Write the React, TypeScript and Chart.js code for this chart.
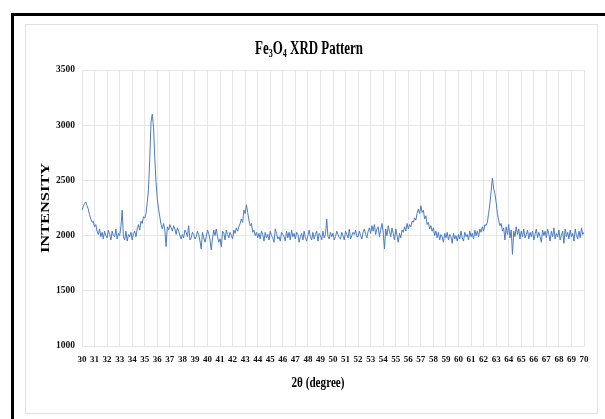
import React, { useEffect, useRef } from "react";
import { Chart, registerables } from "chart.js";

Chart.register(...registerables);

// 2θ grid: start and step of the scan (degrees)
const TWO_THETA_START = 30;
const TWO_THETA_STEP = 0.1;

// Intensity readings, one row per degree (30.0 … 69.9), then 70.0
const INTENSITY: number[] = [
  2230, 2265, 2290, 2305, 2270, 2240, 2190, 2150, 2120, 2130,
  2080, 2100, 2040, 2010, 2060, 1990, 2030, 1970, 2040, 2000,
  1980, 2050, 2010, 1960, 2040, 2000, 1990, 2060, 1970, 2020,
  2000, 2080, 2230, 1990, 1960, 2040, 1950, 2010, 1990, 2030,
  1960, 2020, 2040, 1990, 2060, 2100, 2050, 2130, 2110, 2170,
  2160, 2200, 2300, 2420, 2700, 3030, 3100, 2980, 2700, 2480,
  2330, 2240, 2170, 2100, 2060, 2110, 2050, 1900, 2080, 2050,
  2100, 2070, 2040, 2090, 2060, 2010, 2070, 2040, 2000, 1970,
  2010, 1980, 2050, 2030, 1990, 2090, 1960, 1980, 2030, 2010,
  1970, 1990, 2040, 2010, 1950, 1880, 2030, 1980, 1940, 1990,
  2050, 2020, 1960, 1870, 1980, 2050, 2000, 2060, 1990, 1940,
  1970, 1900, 2040, 2020, 1960, 2050, 2010, 1980, 2030, 2000,
  1970, 2050, 2020, 2070, 2040, 2080, 2110, 2150, 2120, 2230,
  2200, 2280, 2210, 2140, 2090, 2110, 2030, 2050, 2000, 2030,
  1980, 2020, 1970, 2040, 2010, 1950, 2030, 1980, 2010, 1960,
  2040, 2000, 1980, 1940, 2060, 2020, 1970, 1990, 1950, 2030,
  2010, 1990, 1950, 2040, 1980, 2030, 1960, 2050, 1990, 2020,
  1970, 2030, 2010, 1940, 1990, 2020, 1960, 2040, 1980, 1950,
  2000, 2050, 1990, 1960, 2030, 1970, 2010, 2040, 1950, 2020,
  2000, 1960, 2040, 1980, 2010, 2150, 1990, 1970, 2030, 1990,
  2020, 1960, 1990, 2040, 2010, 1980, 1970, 2030, 2000, 1960,
  2040, 2010, 1980, 2060, 1970, 2000, 2030, 2010, 2050, 1990,
  1990, 2040, 2000, 1970, 2030, 2060, 2010, 1980, 2040, 2070,
  2020, 2090, 2040, 2100, 2010, 2060, 2080, 1990, 2050, 2110,
  2030, 1880, 2060, 2000, 2090, 2040, 1990, 2070, 2020, 1960,
  2060, 2000, 1940, 2020, 1980, 2050, 2030, 2080, 2040, 2110,
  2060, 2100, 2080, 2130, 2120, 2160, 2140, 2200, 2240, 2200,
  2270, 2210, 2230, 2150, 2180, 2100, 2120, 2060, 2090, 2040,
  2070, 2000, 2040, 1980, 2030, 1960, 2010, 1990, 1940, 2020,
  1980, 2030, 1960, 2010, 1990, 1930, 2020, 1970, 2000, 1950,
  2010, 1970, 2040, 1980, 1950, 2030, 1990, 2010, 1960, 2040,
  1990, 2020, 1970, 2050, 2000, 2040, 1990, 2060, 2030, 2080,
  2040, 2100, 2090, 2120, 2200, 2290, 2400, 2520, 2430, 2380,
  2300, 2200, 2140, 2090, 2110, 2040, 2070, 1960, 2080, 2010,
  2100, 1980, 2050, 1830, 2040, 1990, 2080, 2010, 2060, 1970,
  2040, 1990, 2060, 1980, 2010, 2050, 1970, 2030, 1990, 2040,
  1960, 2010, 2060, 1980, 2030, 1990, 1940, 2050, 2000, 2040,
  1980, 2060, 2010, 1950, 2040, 1990, 2070, 1970, 2020, 1990,
  2050, 1960, 2000, 2040, 1930, 2060, 1990, 2030, 1970, 2050,
  1990, 2020, 1950, 2060, 2000, 1970, 2040, 1980, 2070, 2010,
  2030,
];

const X_MIN = 30;
const X_MAX = 70;
const X_TICK_STEP = 1;
const Y_MIN = 1000;
const Y_MAX = 3500;
const Y_TICK_STEP = 500;

const TITLE_PARTS: [string, boolean][] = [
  ["Fe", false],
  ["3", true],
  ["O", false],
  ["4", true],
  [" XRD Pattern", false],
];
const X_TITLE = "2θ (degree)";
const Y_TITLE = "INTENSITY";

const SERIF = "'Liberation Serif', 'Times New Roman', serif";
const LINE_COLOR = "#4a7cc4";
const GRID_COLOR = "#e6e6e6";

const decorPlugin = {
  id: "decor",
  beforeDraw(chart: any) {
    const ctx = chart.ctx as CanvasRenderingContext2D;
    ctx.save();
    ctx.fillStyle = "#ffffff";
    ctx.fillRect(0, 0, chart.width, chart.height);
    ctx.fillStyle = "#000000";
    ctx.fillRect(11, 13, 3, chart.height - 13);
    ctx.fillRect(11, 13, chart.width - 11, 3);
    ctx.strokeStyle = "#e2e2e2";
    ctx.lineWidth = 1;
    ctx.strokeRect(25.5, 24.5, 572, 389);
    ctx.restore();
  },
  afterDraw(chart: any) {
    const ctx = chart.ctx as CanvasRenderingContext2D;
    const area = chart.chartArea;
    ctx.save();
    ctx.fillStyle = "#000000";

    const mainFont = `bold 16px ${SERIF}`;
    const subFont = `bold 10px ${SERIF}`;
    let total = 0;
    const widths = TITLE_PARTS.map(([t, sub]) => {
      ctx.font = sub ? subFont : mainFont;
      const w = ctx.measureText(t).width;
      total += w;
      return w;
    });
    ctx.save();
    ctx.translate(309, 54);
    ctx.scale(108 / total, 1.15);
    ctx.textAlign = "left";
    ctx.textBaseline = "alphabetic";
    let x = -total / 2;
    TITLE_PARTS.forEach(([t, sub], i) => {
      ctx.font = sub ? subFont : mainFont;
      ctx.fillText(t, x, sub ? 3 : 0);
      x += widths[i];
    });
    ctx.restore();

    ctx.save();
    ctx.font = `bold 12.5px ${SERIF}`;
    const yw = ctx.measureText(Y_TITLE).width;
    ctx.translate(46, (area.top + area.bottom) / 2);
    ctx.rotate(-Math.PI / 2);
    ctx.scale(90 / yw, 1);
    ctx.textAlign = "center";
    ctx.textBaseline = "middle";
    ctx.fillText(Y_TITLE, 0, 0);
    ctx.restore();

    ctx.save();
    ctx.font = `bold 13px ${SERIF}`;
    const xw = ctx.measureText(X_TITLE).width;
    ctx.translate(318, 383);
    ctx.scale(53 / xw, 1.15);
    ctx.textAlign = "center";
    ctx.textBaseline = "middle";
    ctx.fillText(X_TITLE, 0, 0);
    ctx.restore();

    ctx.restore();
  },
};

export default function App() {
  const canvasRef = useRef<HTMLCanvasElement | null>(null);

  useEffect(() => {
    const canvas = canvasRef.current;
    if (!canvas) return;
    const points = INTENSITY.map((y, i) => ({
      x: TWO_THETA_START + i * TWO_THETA_STEP,
      y,
    }));
    const xTickFont = { family: SERIF, size: 9, weight: "bold" as const };
    const yTickFont = { family: SERIF, size: 9.5, weight: "bold" as const };
    const chart = new Chart(canvas, {
      type: "line",
      data: {
        datasets: [
          {
            data: points,
            borderColor: LINE_COLOR,
            borderWidth: 1,
            pointRadius: 0,
            tension: 0,
            fill: false,
          },
        ],
      },
      options: {
        animation: false,
        responsive: false,
        devicePixelRatio: 1,
        layout: { padding: { left: 0, right: 21, top: 70, bottom: 0 } },
        plugins: {
          legend: { display: false },
          title: { display: false },
          tooltip: { enabled: false },
        },
        scales: {
          x: {
            type: "linear",
            min: X_MIN,
            max: X_MAX,
            ticks: {
              stepSize: X_TICK_STEP,
              autoSkip: false,
              maxRotation: 0,
              minRotation: 0,
              padding: 8,
              font: xTickFont,
              color: "#111111",
              callback: (v: any) => String(v),
            },
            grid: { color: GRID_COLOR, drawTicks: false },
            border: { color: GRID_COLOR },
            afterFit: (s: any) => {
              s.height = 73;
            },
          },
          y: {
            min: Y_MIN,
            max: Y_MAX,
            ticks: {
              stepSize: Y_TICK_STEP,
              padding: 7,
              font: yTickFont,
              color: "#111111",
              callback: (v: any) => String(v),
            },
            grid: { color: GRID_COLOR, drawTicks: false },
            border: { color: GRID_COLOR },
            afterFit: (s: any) => {
              s.width = 82;
            },
          },
        },
      },
      plugins: [decorPlugin],
    });
    return () => chart.destroy();
  }, []);

  return (
    <div style={{ position: "fixed", left: 0, top: 0, width: 605, height: 419, background: "#fff" }}>
      <canvas ref={canvasRef} width={605} height={419} style={{ display: "block" }} />
    </div>
  );
}
